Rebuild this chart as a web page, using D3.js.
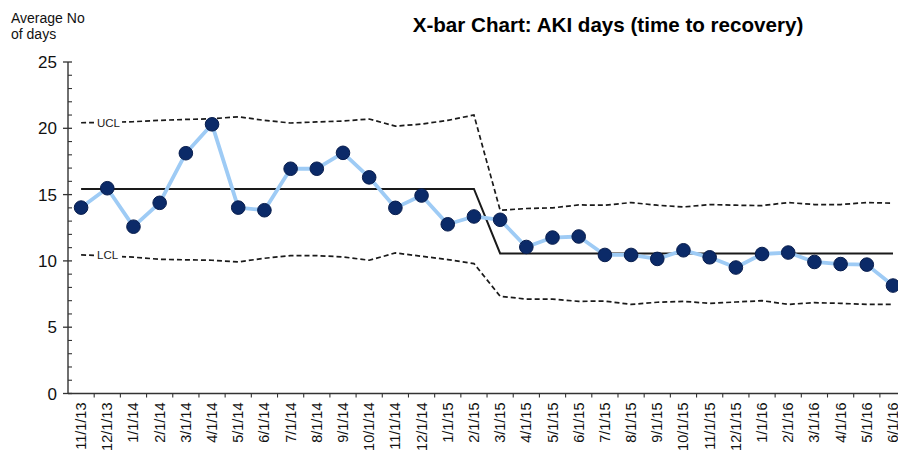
<!DOCTYPE html>
<html>
<head>
<meta charset="utf-8">
<script src="https://cdn.jsdelivr.net/npm/d3@7"></script>
<style>
  html, body { margin: 0; padding: 0; background: #fff; }
  svg { display: block; }
</style>
</head>
<body>
<div id="chart"></div>
<script>
const categories = ["11/1/13","12/1/13","1/1/14","2/1/14","3/1/14","4/1/14","5/1/14","6/1/14","7/1/14","8/1/14","9/1/14","10/1/14","11/1/14","12/1/14","1/1/15","2/1/15","3/1/15","4/1/15","5/1/15","6/1/15","7/1/15","8/1/15","9/1/15","10/1/15","11/1/15","12/1/15","1/1/16","2/1/16","3/1/16","4/1/16","5/1/16","6/1/16"];
const values = [14.02,15.48,12.58,14.38,18.12,20.3,14.02,13.82,16.95,16.95,18.15,16.3,14.0,14.93,12.76,13.35,13.1,11.05,11.76,11.84,10.45,10.45,10.15,10.8,10.27,9.5,10.52,10.63,9.92,9.76,9.72,8.14];
const centre = [15.43,15.43,15.43,15.43,15.43,15.43,15.43,15.43,15.43,15.43,15.43,15.43,15.43,15.43,15.43,15.43,10.56,10.56,10.56,10.56,10.56,10.56,10.56,10.56,10.56,10.56,10.56,10.56,10.56,10.56,10.56,10.56];
const ucl = [20.42,20.45,20.5,20.6,20.67,20.72,20.87,20.6,20.4,20.48,20.55,20.7,20.16,20.32,20.6,21.0,13.82,13.95,14.0,14.22,14.2,14.4,14.2,14.07,14.25,14.2,14.17,14.4,14.25,14.25,14.4,14.35];
const lcl = [10.45,10.38,10.28,10.12,10.08,10.05,9.92,10.2,10.4,10.4,10.3,10.05,10.6,10.35,10.1,9.8,7.33,7.12,7.12,6.95,6.97,6.72,6.88,6.95,6.8,6.9,7.0,6.72,6.85,6.8,6.72,6.72];
const yTicks = [0,5,10,15,20,25];
const yMinorTicks = d3.range(0, 26);
const title = "X-bar Chart: AKI days (time to recovery)";
const yLabel = ["Average No", "of days"];

const W = 898, H = 452;
const svg = d3.select("#chart").append("svg").attr("width", W).attr("height", H)
  .style("font-family", "Liberation Sans, Arial, sans-serif");

const x0 = 68, step = 26.19;
const x = d3.scaleBand().domain(categories).range([x0, x0 + step * categories.length]).padding(0);
const y = d3.scaleLinear().domain([0, 25]).range([393.5, 62]);
const cx = d => x(d) + x.bandwidth() / 2;

// Title
svg.append("text").attr("x", 608).attr("y", 32).attr("text-anchor", "middle")
  .attr("font-size", 20.6).attr("font-weight", "bold").attr("fill", "#000").text(title);

// Y label
svg.append("text").attr("x", 11).attr("y", 23).attr("font-size", 14).attr("fill", "#111")
  .selectAll("tspan").data(yLabel).join("tspan")
  .attr("x", 11).attr("dy", (d, i) => i === 0 ? 0 : 16).text(d => d);

// Y axis
const yAxisG = svg.append("g");
yAxisG.append("line").attr("x1", x0).attr("x2", x0).attr("y1", y(25)).attr("y2", y(0))
  .attr("stroke", "#333").attr("stroke-width", 1.4);
yAxisG.selectAll(".minor").data(yMinorTicks.filter(d => d % 5 !== 0)).join("line")
  .attr("x1", x0).attr("x2", x0 + 4).attr("y1", d => y(d)).attr("y2", d => y(d))
  .attr("stroke", "#333").attr("stroke-width", 1.1);
yAxisG.selectAll(".major").data(yTicks).join("line")
  .attr("x1", x0 - 5).attr("x2", x0 + 4).attr("y1", d => y(d)).attr("y2", d => y(d))
  .attr("stroke", "#333").attr("stroke-width", 1.3);
yAxisG.selectAll(".lab").data(yTicks).join("text")
  .attr("x", 57).attr("y", d => y(d)).attr("dy", "0.36em").attr("text-anchor", "end")
  .attr("font-size", 17).attr("fill", "#111").text(d => d);

// X axis
const xAxisG = svg.append("g");
xAxisG.append("line").attr("x1", x0).attr("x2", W).attr("y1", y(0)).attr("y2", y(0))
  .attr("stroke", "#333").attr("stroke-width", 1.4);
xAxisG.selectAll(".xt").data(categories.slice(1)).join("line")
  .attr("x1", d => x(d)).attr("x2", d => x(d)).attr("y1", y(0)).attr("y2", y(0) + 4)
  .attr("stroke", "#333").attr("stroke-width", 1.1);
xAxisG.selectAll(".xl").data(categories).join("text")
  .attr("transform", d => `translate(${cx(d) + 5},${y(0) + 9}) rotate(-90)`)
  .attr("text-anchor", "end").attr("font-size", 14.5).attr("fill", "#111").text(d => d);

// Control limit lines
const line = d3.line().x((d, i) => cx(categories[i])).y(d => y(d));
svg.append("path").datum(ucl).attr("d", line).attr("fill", "none")
  .attr("stroke", "#1a1a1a").attr("stroke-width", 1.7).attr("stroke-dasharray", "5,3");
svg.append("path").datum(lcl).attr("d", line).attr("fill", "none")
  .attr("stroke", "#1a1a1a").attr("stroke-width", 1.7).attr("stroke-dasharray", "5,3");
svg.append("path").datum(centre).attr("d", line).attr("fill", "none")
  .attr("stroke", "#1a1a1a").attr("stroke-width", 2);

// Limit labels
[["UCL", ucl[0]], ["LCL", lcl[0]]].forEach(([t, v]) => {
  svg.append("rect").attr("x", 94).attr("y", y(v) - 7).attr("width", 28).attr("height", 14).attr("fill", "#fff");
  svg.append("text").attr("x", 97).attr("y", y(v)).attr("dy", "0.36em")
    .attr("font-size", 11.5).attr("fill", "#222").text(t);
});

// Data line
svg.append("path").datum(values).attr("d", line).attr("fill", "none")
  .attr("stroke", "#9ecbf5").attr("stroke-width", 3.8).attr("stroke-linejoin", "round");
svg.selectAll(".pt").data(values).join("circle")
  .attr("cx", (d, i) => cx(categories[i])).attr("cy", d => y(d)).attr("r", 6.8)
  .attr("fill", "#0b2a68").attr("stroke", "#081d4d").attr("stroke-width", 1);
</script>
</body>
</html>
